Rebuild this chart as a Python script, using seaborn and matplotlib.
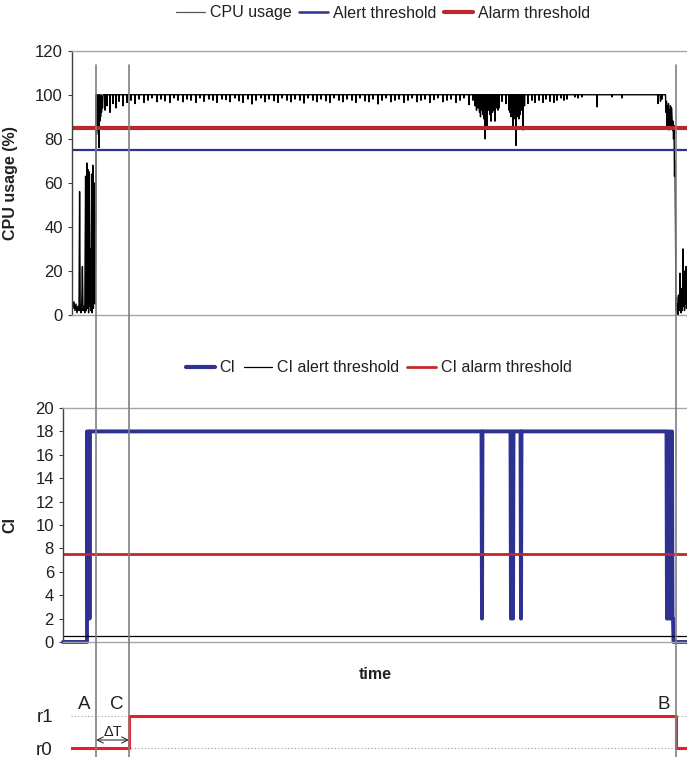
import pandas as pd
import matplotlib.pyplot as plt
import matplotlib.transforms as mtransforms
from matplotlib.lines import Line2D
import seaborn as sns

# --- data (time axis in samples) ---
start_t = [0, 1, 2, 3, 4, 5, 6, 7, 7.6, 8.2,
           9, 9.8, 10.4, 11, 12, 12.8, 13.6, 14.2, 14.8, 15.4,
           16, 16.6, 17.2, 17.8, 18.4, 19, 19.6, 20.2, 20.8, 21.4,
           22, 22.6, 23.2, 23.8]
start_v = [8, 3, 6, 2, 5, 1, 4, 2, 56, 3,
           1, 6, 22, 2, 4, 1, 63, 2, 69, 3,
           66, 1, 65, 4, 30, 2, 64, 1, 68, 3,
           60, 38, 5, 40]

trans_t = [24.2, 24.6, 25, 25.4, 25.8, 26.2, 26.6, 27, 27.4, 27.8, 28.2, 28.6, 29, 29.5, 30, 30.5, 31]
trans_v = [100, 82, 99, 86, 100, 84, 97, 76, 100, 88, 98, 90, 100, 92, 99, 94, 100]

flat_spike_t = [33, 35, 38, 41, 44, 47, 51, 55, 59, 63,
                67, 72, 76, 80, 85, 89, 93, 98, 102, 106,
                111, 115, 119, 124, 128, 132, 137, 141, 145, 150,
                154, 158, 163, 167, 171, 176, 180, 184, 189, 193,
                197, 202, 206, 210, 215, 219, 223, 228, 232, 236,
                241, 245, 249, 254, 258, 262, 267, 271, 275, 280,
                284, 288, 293, 297, 301, 306, 310, 314, 319, 323,
                327, 332, 336, 340, 345, 349, 353, 358, 362, 366,
                371, 375, 379, 384, 388, 392, 397, 401]
flat_spike_v = [93, 95, 92, 96, 94, 97, 95, 96.5, 97.5, 96,
                98, 96.5, 97.5, 98.5, 96.8, 98, 97.2, 96.5, 98.5, 97.5,
                96.8, 98, 97.5, 96.5, 98.5, 97, 98, 97.5, 96.5, 98,
                97.8, 96.8, 98.5, 97.2, 96.5, 98, 95.8, 97.5, 98.5, 96.8,
                98, 97.2, 96.5, 98.5, 97.5, 96.8, 98, 97.5, 96.2, 98.5,
                97.5, 96.8, 98, 97.2, 96.5, 98.5, 97.5, 96.8, 98, 97.5,
                96.5, 98.5, 97.2, 96.8, 98, 95.8, 97.5, 98.5, 96.8, 97.5,
                98, 96.5, 97.5, 98.5, 96.8, 97.5, 98, 96.5, 97.8, 98.5,
                96.8, 97.5, 98, 96.5, 97.5, 98.5, 95.5, 97.5]

cluster_t = [403, 404.5, 406, 407.5, 408.5, 410, 411, 412, 413, 414,
             415, 416.5, 418, 419, 420.5, 422, 423, 424.5, 426, 427,
             430, 434, 437, 438, 439, 440, 441, 442, 443, 444,
             445, 446, 447, 448, 449.5, 451, 452.5,
             456, 460, 463, 467, 471, 474, 478, 482, 485, 489, 492, 495]
cluster_v = [95, 93, 94, 92, 90, 93, 91, 89, 80, 92,
             86, 93, 91, 88, 92, 93, 88, 94, 93, 94,
             97, 96, 93, 92, 90, 92, 85, 91, 89, 77,
             92, 90, 89, 91, 93, 84, 95,
             96, 97.5, 96.5, 97.5, 96.5, 98, 97, 96.5, 97.5, 98.5, 97.5, 98]

late_t = [503, 506, 510, 525, 540, 550, 586, 588.5, 590]
late_v = [99, 98.5, 99, 94.5, 99, 98.5, 96, 97, 98]

end_t = [593.5, 594, 594.5, 595, 595.5, 596, 596.5, 597, 597.5, 598,
         598.5, 599, 599.5, 600, 600.5, 601, 601.5, 602, 602.5, 603,
         603.5, 604, 604.5, 605, 605.5, 606, 606.5, 607, 607.5, 608,
         608.5, 609, 609.5, 610, 610.5, 611, 611.5, 612, 612.5, 613,
         613.5, 614, 614.5, 615]
end_v = [100, 92, 97, 86, 95, 88, 96, 84, 93, 87,
         95, 85, 94, 90, 84, 88, 80, 86, 63, 70,
         40, 2, 8, 1, 5, 0, 9, 2, 6, 19,
         3, 1, 12, 2, 7, 30, 4, 14, 2, 20,
         5, 22, 3, 8]

alert_threshold = 75
alarm_threshold = 85

ci_t = [-9, 15, 15, 16, 17, 17.5, 18, 409.5, 410, 410.5,
        438.5, 439, 440, 441, 441.5, 448.5, 449, 449.5,
        594.5, 595, 596, 597, 598, 599, 600, 600.5, 601, 601.5, 615]
ci_v = [0, 0, 18, 2, 18, 2, 18, 18, 2, 18,
        18, 2, 18, 2, 18, 18, 2, 18,
        18, 2, 18, 2, 18, 2, 18, 2, 2, 0, 0]
ci_alert = 0.5
ci_alarm = 7.5

state_t = [-1, 57, 57, 604, 604, 615]
state_v = [0, 0, 1, 1, 0, 0]
state_labels = ["r0", "r1"]

event_labels = ["A", "C", "B"]
event_t = [24, 57, 604]

# build CPU series
cpu_t = list(start_t) + list(trans_t)
cpu_v = list(start_v) + list(trans_v)
for t, v in zip(flat_spike_t + cluster_t + late_t, flat_spike_v + cluster_v + late_v):
    cpu_t += [t - 0.35, t, t + 0.35]
    cpu_v += [100, v, 100]
cpu_t += end_t
cpu_v += end_v
cpu = pd.DataFrame({"time": cpu_t, "usage": cpu_v})
ci = pd.DataFrame({"time": ci_t, "CI": ci_v})
state = pd.DataFrame({"time": state_t, "r": state_v})

sns.set_theme(style="white")
plt.rcParams["font.family"] = ["Liberation Sans", "DejaVu Sans"]
plt.rcParams["font.size"] = 11

NAVY = "#2e3192"
DARKRED = "#b8282f"
RED = "#ee1c25"
GRID = "#a6a6a6"
TXT = "#231f20"

W, H = 687, 757
fig = plt.figure(figsize=(W / 100, H / 100), dpi=100)
ax_top = fig.add_axes([72 / W, 1 - 315 / H, 615 / W, 264.3 / H])
ax_mid = fig.add_axes([63 / W, 1 - 642 / H, 624 / W, 234 / H])
ax_bot = fig.add_axes([71 / W, 0, 616 / W, 67 / H])
for a in (ax_mid, ax_bot):
    a.set_facecolor("none")

# top: CPU usage
sns.lineplot(data=cpu, x="time", y="usage", ax=ax_top, color="black", lw=1.0,
             estimator=None, sort=False, legend=False)
ax_top.axhline(alert_threshold, color=NAVY, lw=1.6)
ax_top.axhline(alarm_threshold, color=DARKRED, lw=3)
ax_top.set_xlim(0, 615)
ax_top.set_ylim(0, 120)
ax_top.set_yticks(range(0, 121, 20))
ax_top.set_xticks([])
ax_top.set_xlabel("")
ax_top.set_ylabel("CPU usage (%)", fontweight="bold", fontsize=11.5, color=TXT)
ax_top.yaxis.set_label_coords(-54 / 615, 0.5)

# middle: CI
sns.lineplot(data=ci, x="time", y="CI", ax=ax_mid, color=NAVY, lw=2.8,
             estimator=None, sort=False, legend=False)
ax_mid.lines[-1].set_clip_on(False)
ax_mid.axhline(ci_alert, color="black", lw=0.9)
ax_mid.axhline(ci_alarm, color="#c1272d", lw=2)
ax_mid.set_xlim(-9, 615)
ax_mid.set_ylim(0, 20)
ax_mid.set_yticks(range(0, 21, 2))
ax_mid.set_xticks([])
ax_mid.set_xlabel("time", fontweight="bold", fontsize=11.5, color=TXT, labelpad=18)
ax_mid.set_ylabel("CI", fontweight="bold", fontsize=11.5, color=TXT)
ax_mid.yaxis.set_label_coords(-46 / 624, 0.5)

for a in (ax_top, ax_mid):
    a.spines["right"].set_visible(False)
    a.spines["top"].set_color(GRID)
    a.spines["bottom"].set_color(GRID)
    a.spines["left"].set_color("#404040")
    for s in a.spines.values():
        s.set_linewidth(1)
    a.tick_params(axis="y", left=True, length=3, width=0.8, color="#404040",
                  pad=3.5, labelsize=12, labelcolor=TXT)

# bottom: response state
ax_bot.axhline(0, color="#999999", lw=0.8, ls=(0, (1, 2)))
ax_bot.axhline(1, color="#999999", lw=0.8, ls=(0, (1, 2)))
sns.lineplot(data=state, x="time", y="r", ax=ax_bot, color=RED, lw=2.2,
             estimator=None, sort=False, legend=False)
ax_bot.set_xlim(-1, 615)
ax_bot.set_ylim(-0.28, 1.81)
ax_bot.set_yticks([0, 1])
ax_bot.set_yticklabels(state_labels)
ax_bot.set_xticks([])
ax_bot.set_xlabel("")
ax_bot.set_ylabel("")
ax_bot.tick_params(axis="y", left=False, pad=7, labelsize=13.5, labelcolor=TXT)
for s in ax_bot.spines.values():
    s.set_visible(False)

for lab, t in zip(event_labels, event_t):
    ax_bot.annotate(lab, xy=(t, 1.36), xytext=(-4, 0), textcoords="offset points",
                    ha="right", va="center", fontsize=13.5, color=TXT)
ax_bot.annotate("", xy=(event_t[0], 0.25), xytext=(event_t[1], 0.25),
                arrowprops=dict(arrowstyle="<->", color="#333333", lw=0.8,
                                shrinkA=0, shrinkB=0))
ax_bot.text((event_t[0] + event_t[1]) / 2, 0.5, "\u0394T", ha="center", va="center",
            fontsize=10.5, color=TXT)

# event lines through all panels
trans = mtransforms.blended_transform_factory(ax_top.transData, fig.transFigure)
for t in event_t:
    fig.add_artist(Line2D([t, t], [0, 1 - 65 / H], transform=trans,
                          color="#808080", lw=1.2))

# legends
top_handles = [Line2D([], [], color="#555555", lw=0.9, label="CPU usage"),
               Line2D([], [], color=NAVY, lw=1.8, label="Alert threshold"),
               Line2D([], [], color=DARKRED, lw=3, label="Alarm threshold")]
fig.legend(handles=top_handles, loc="center", bbox_to_anchor=(383 / W, 1 - 13 / H),
           ncol=3, frameon=False, fontsize=11.5, handlelength=1.8,
           handletextpad=0.3, columnspacing=0.5, labelcolor=TXT)
mid_handles = [Line2D([], [], color=NAVY, lw=3, label="CI"),
               Line2D([], [], color="black", lw=0.9, label="CI alert threshold"),
               Line2D([], [], color="#c1272d", lw=2, label="CI alarm threshold")]
fig.legend(handles=mid_handles, loc="center", bbox_to_anchor=(379 / W, 1 - 368 / H),
           ncol=3, frameon=False, fontsize=11.5, handlelength=1.8,
           handletextpad=0.3, columnspacing=0.5, labelcolor=TXT)

fig.savefig("out.png", dpi=100)
